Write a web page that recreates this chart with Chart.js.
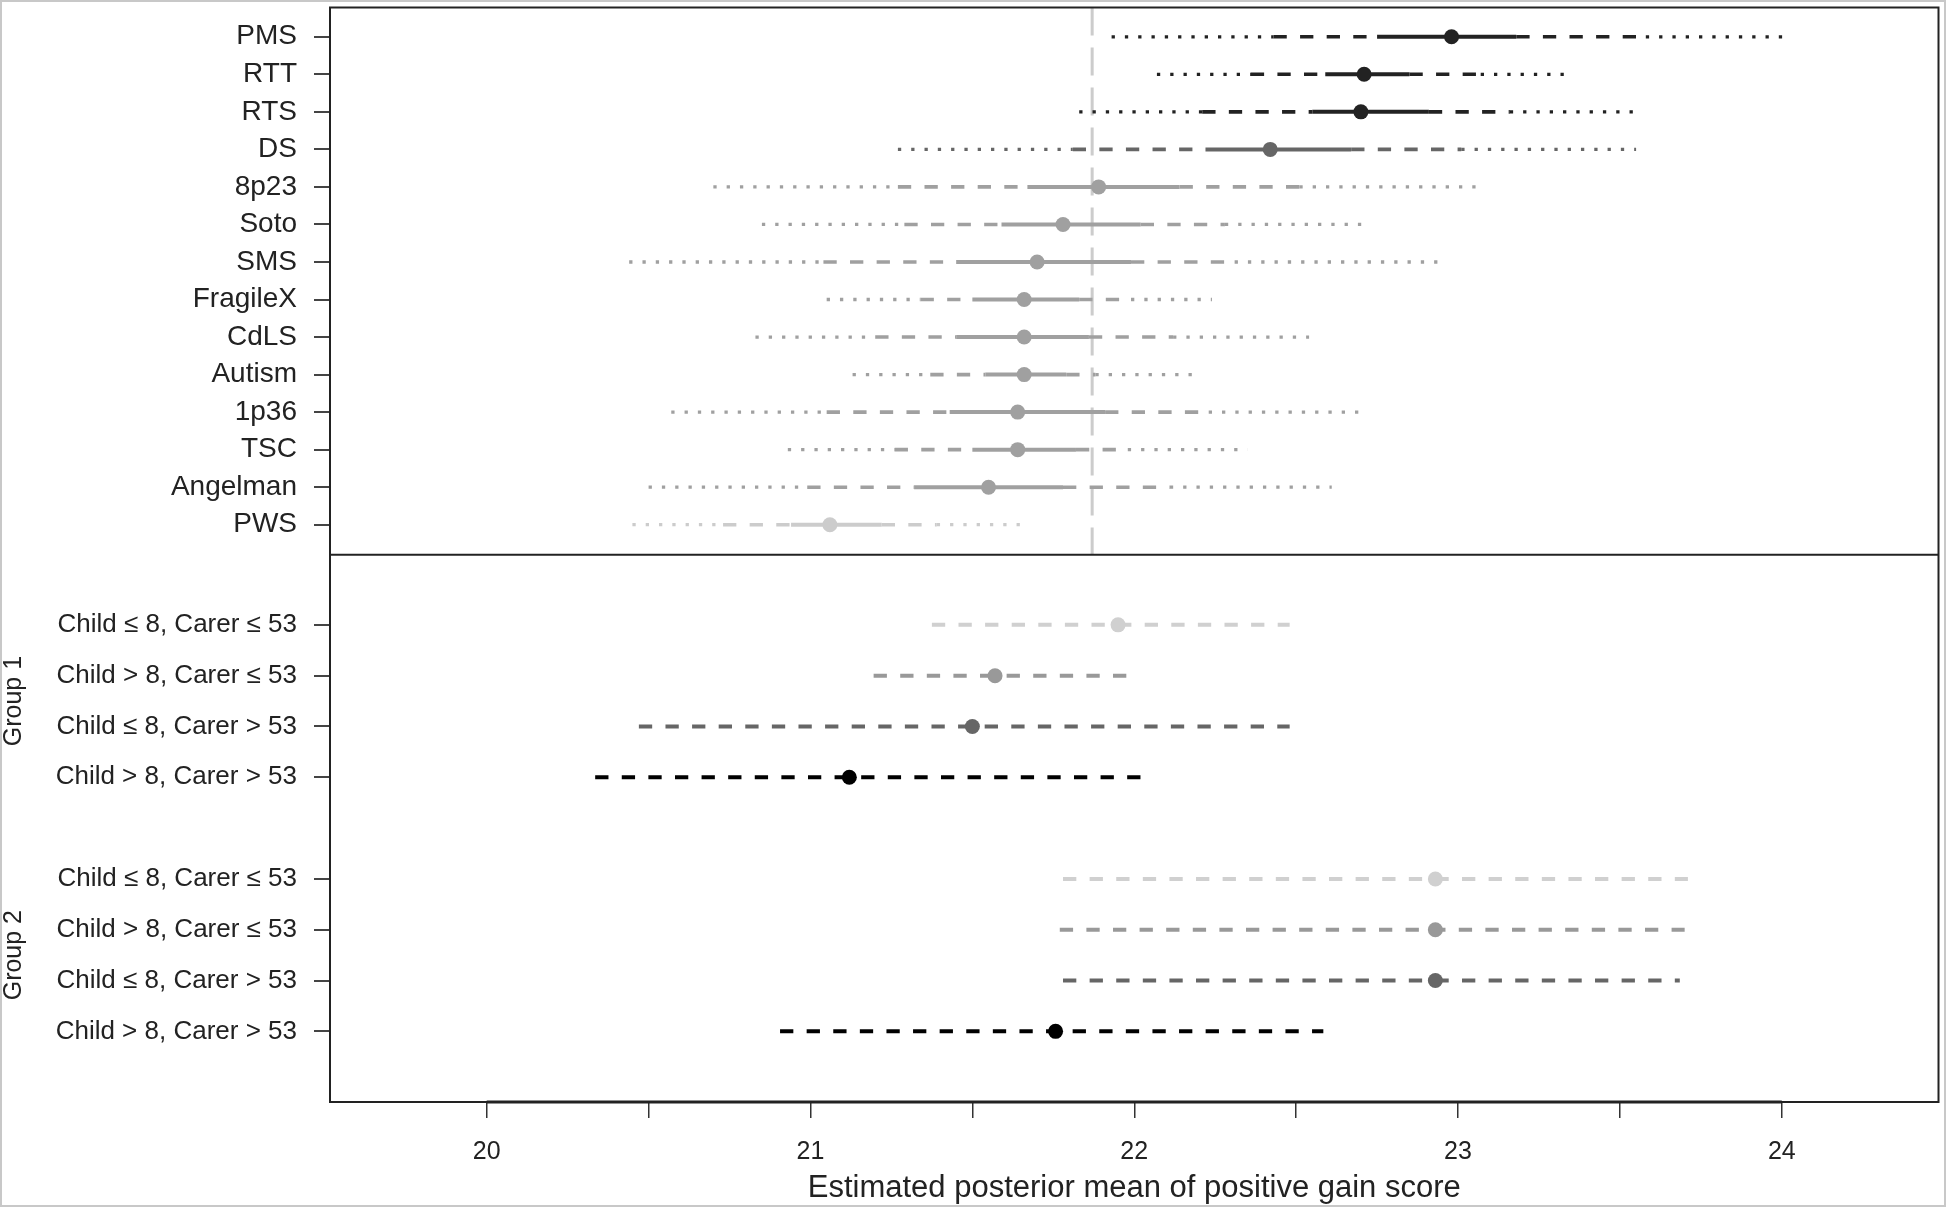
<!DOCTYPE html>
<html>
<head>
<meta charset="utf-8">
<script src="https://cdn.jsdelivr.net/npm/chart.js@4"></script>
<style>
  body { margin: 0; background: #fff; }
  canvas { display: block; }
</style>
</head>
<body>
<canvas id="chart" width="1946" height="1207"></canvas>
<script>
// top panel: syndromes, listed top to bottom
const syndromes = ['PMS', 'RTT', 'RTS', 'DS', '8p23', 'Soto', 'SMS', 'FragileX', 'CdLS', 'Autism', '1p36', 'TSC', 'Angelman', 'PWS']
const synMean = [22.98, 22.71, 22.70, 22.42, 21.89, 21.78, 21.70, 21.66, 21.66, 21.66, 21.64, 21.64, 21.55, 21.06]
// outer (dotted), middle (dashed) and inner (solid) intervals
const synOuterLow  = [21.93, 22.07, 21.83, 21.27, 20.70, 20.85, 20.44, 21.05, 20.83, 21.13, 20.57, 20.93, 20.50, 20.45]
const synOuterHigh = [24.03, 23.33, 23.57, 23.55, 23.07, 22.73, 22.94, 22.24, 22.54, 22.19, 22.72, 22.35, 22.61, 21.65]
const synMidLow    = [22.43, 22.36, 22.21, 21.81, 21.27, 21.29, 21.04, 21.34, 21.20, 21.37, 21.05, 21.26, 20.99, 20.73]
const synMidHigh   = [23.58, 23.07, 23.16, 23.01, 22.51, 22.28, 22.31, 21.99, 22.12, 21.88, 22.23, 21.98, 22.11, 21.39]
const synInnerLow  = [22.75, 22.59, 22.55, 22.22, 21.67, 21.59, 21.45, 21.50, 21.45, 21.54, 21.43, 21.50, 21.32, 20.94]
const synInnerHigh = [23.18, 22.85, 22.91, 22.67, 22.14, 22.02, 21.99, 21.83, 21.86, 21.79, 21.91, 21.82, 21.78, 21.22]
const refLine = 21.87

// bottom panel: age groups
const ageGroups = ['Child ≤ 8, Carer ≤ 53', 'Child > 8, Carer ≤ 53', 'Child ≤ 8, Carer > 53', 'Child > 8, Carer > 53']
const group1Mean = [21.95, 21.57, 21.50, 21.12]
const group1Low  = [21.375, 21.195, 20.47, 20.335]
const group1High = [22.48, 22.01, 22.48, 22.06]
const group2Mean = [22.93, 22.93, 22.93, 21.757]
const group2Low  = [21.78, 21.77, 21.78, 20.906]
const group2High = [23.71, 23.70, 23.685, 22.584]

const xTicks = [20, 20.5, 21, 21.5, 22, 22.5, 23, 23.5, 24]

// styles
const synColors = ['#222', '#222', '#222', '#666', '#a0a0a0', '#a0a0a0', '#a0a0a0', '#a0a0a0', '#a0a0a0', '#a0a0a0', '#a0a0a0', '#a0a0a0', '#a0a0a0', '#cccccc']
const ageColors = ['#d0d0d0', '#999', '#666', '#000']
const DOT = [3.3, 10]
const DASH = [13.3, 13.3]
const GAP = {x: null, y: null}
const family = '"Liberation Sans", Arial, Helvetica, sans-serif'

Chart.defaults.font.family = family
Chart.defaults.color = '#222'

let datasets = []

function addLine(data, axis, color, width, dash, order) {
  datasets.push({
    data: data, yAxisID: axis, showLine: true,
    borderColor: color, borderWidth: width, borderDash: dash, borderCapStyle: 'butt',
    pointRadius: 0, pointHoverRadius: 0, tension: 0, spanGaps: false, order: order
  })
}

syndromes.forEach((name, i) => {
  let c = synColors[i]
  addLine([{x: synOuterLow[i], y: i}, {x: synMidLow[i], y: i}, GAP, {x: synMidHigh[i], y: i}, {x: synOuterHigh[i], y: i}], 'yTop', c, 3.3, DOT, 3)
  addLine([{x: synMidLow[i], y: i}, {x: synInnerLow[i], y: i}, GAP, {x: synInnerHigh[i], y: i}, {x: synMidHigh[i], y: i}], 'yTop', c, 3.6, DASH, 2)
  addLine([{x: synInnerLow[i], y: i}, {x: synInnerHigh[i], y: i}], 'yTop', c, 4, [], 1)
})
datasets.push({
  data: syndromes.map((s, i) => ({x: synMean[i], y: i})),
  yAxisID: 'yTop', pointRadius: 7.5, pointBackgroundColor: synColors, pointBorderWidth: 0, order: 0
})

// group 1 rows 0..3, group 2 rows 5..8
const groups = [[group1Mean, group1Low, group1High, 0], [group2Mean, group2Low, group2High, 5]]
groups.forEach(([mean, low, high, start]) => {
  ageGroups.forEach((g, i) => {
    addLine([{x: low[i], y: start + i}, {x: high[i], y: start + i}], 'yBot', ageColors[i], 4, DASH, 2)
  })
  datasets.push({
    data: ageGroups.map((g, i) => ({x: mean[i], y: start + i})),
    yAxisID: 'yBot', pointRadius: 7.5, pointBackgroundColor: ageColors, pointBorderWidth: 0, order: 0
  })
})

const framePlugin = {
  id: 'frame',
  beforeDatasetsDraw(chart) {
    let ctx = chart.ctx
    let x = chart.scales.x.getPixelForValue(refLine)
    let top = chart.scales.yTop
    ctx.save()
    ctx.strokeStyle = '#cccccc'
    ctx.lineWidth = 3
    ctx.setLineDash([28, 12])
    ctx.beginPath()
    ctx.moveTo(x, top.top)
    ctx.lineTo(x, top.bottom)
    ctx.stroke()
    ctx.restore()
  },
  afterDraw(chart) {
    let ctx = chart.ctx
    let a = chart.chartArea
    let xs = chart.scales.x
    let bot = chart.scales.yBot
    ctx.save()
    ctx.strokeStyle = '#222'
    ctx.lineWidth = 2
    ctx.strokeRect(a.left, a.top, a.right - a.left, a.bottom - a.top)
    ctx.beginPath()
    ctx.moveTo(a.left, chart.scales.yTop.bottom)
    ctx.lineTo(a.right, chart.scales.yTop.bottom)
    ctx.stroke()
    // axis line 20..24
    ctx.lineWidth = 3
    ctx.beginPath()
    ctx.moveTo(xs.getPixelForValue(xTicks[0]), a.bottom)
    ctx.lineTo(xs.getPixelForValue(xTicks[xTicks.length - 1]), a.bottom)
    ctx.stroke()
    // group labels
    ctx.fillStyle = '#222'
    ctx.font = '25px ' + family
    ctx.textAlign = 'center'
    ctx.textBaseline = 'middle'
    ;[['Group 1', 1.5], ['Group 2', 6.5]].forEach(([txt, v]) => {
      ctx.save()
      ctx.translate(14, bot.getPixelForValue(v))
      ctx.rotate(-Math.PI / 2)
      ctx.fillText(txt, 0, 0)
      ctx.restore()
    })
    // outer frame
    ctx.strokeStyle = '#c8c8c8'
    ctx.lineWidth = 2
    ctx.strokeRect(1, 1, chart.width - 2, chart.height - 2)
    ctx.restore()
  }
}

// keep the plot box where the reference has it
function noPad(s) {
  s.paddingTop = 0
  s.paddingBottom = 0
  s.paddingLeft = 0
  s.paddingRight = 0
}

const yGrid = {drawOnChartArea: false, drawTicks: true, tickLength: 16, color: '#444', lineWidth: 2}

new Chart(document.getElementById('chart'), {
  type: 'scatter',
  data: {datasets: datasets},
  options: {
    responsive: false,
    animation: false,
    devicePixelRatio: 1,
    layout: {padding: {top: 4, right: 5, left: 0, bottom: 0}},
    plugins: {legend: {display: false}, tooltip: {enabled: false}},
    scales: {
      x: {
        type: 'linear', position: 'bottom', min: 19.516, max: 24.484,
        afterBuildTicks: s => { s.ticks = xTicks.map(v => ({value: v})) },
        afterFit: s => { s.height = 105; noPad(s) },
        grid: {drawOnChartArea: false, drawTicks: true, tickLength: 16, color: '#333', lineWidth: 1.5},
        border: {display: false},
        ticks: {
          callback: v => Number.isInteger(v) ? String(v) : '',
          font: {size: 25}, color: '#222', padding: 19, maxRotation: 0, autoSkip: false
        },
        title: {display: true, text: 'Estimated posterior mean of positive gain score', font: {size: 31}, color: '#222', padding: 0}
      },
      yTop: {
        type: 'linear', position: 'left', stack: 'panels', stackWeight: 1, weight: 2,
        reverse: true, min: -0.78, max: 13.8,
        afterBuildTicks: s => { s.ticks = syndromes.map((n, i) => ({value: i})) },
        afterFit: s => { s.width = 330; noPad(s) },
        grid: yGrid,
        border: {display: false},
        ticks: {callback: v => syndromes[v], font: {size: 28}, color: '#222', padding: 17, autoSkip: false}
      },
      yBot: {
        type: 'linear', position: 'left', stack: 'panels', stackWeight: 1, weight: 1,
        reverse: true, min: -1.38, max: 9.39,
        afterBuildTicks: s => { s.ticks = [0, 1, 2, 3, 5, 6, 7, 8].map(v => ({value: v})) },
        afterFit: s => { s.width = 330; noPad(s) },
        grid: yGrid,
        border: {display: false},
        ticks: {callback: v => ageGroups[v < 4 ? v : v - 5], font: {size: 26}, color: '#222', padding: 17, autoSkip: false}
      }
    }
  },
  plugins: [framePlugin]
})
</script>
</body>
</html>
